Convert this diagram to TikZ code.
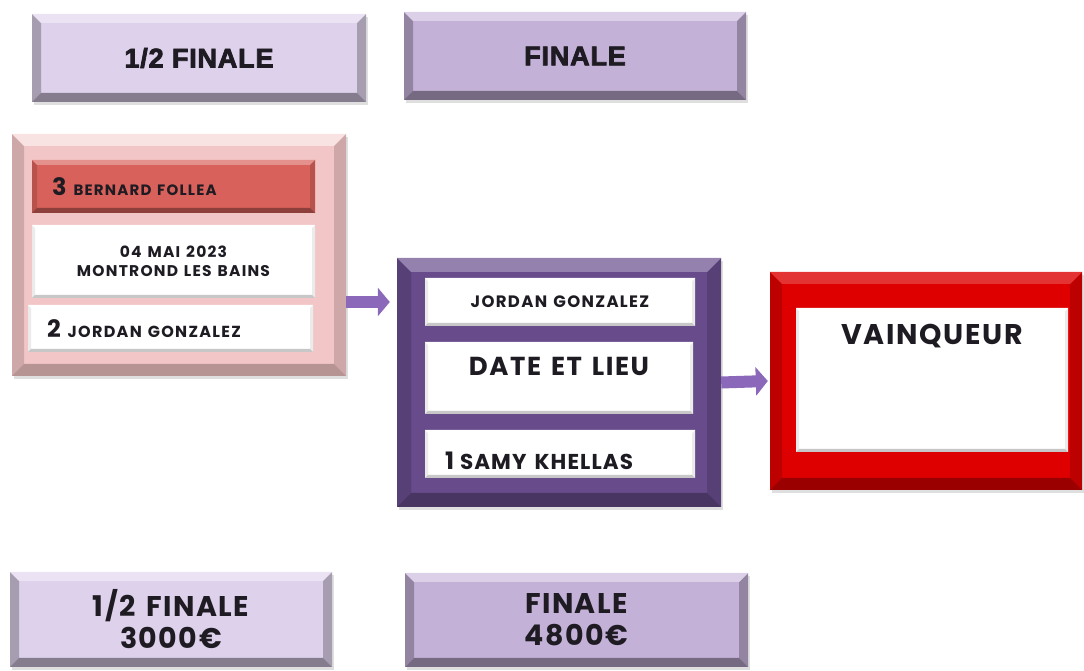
\documentclass[tikz,border=0pt]{standalone}
\usepackage{fontspec}
\setmainfont{Poppins}
\newfontfamily\heavy[BoldFeatures={FakeBold=3}, LetterSpace=3]{Liberation Sans}
\newcommand{\lsp}[1]{\addfontfeatures{LetterSpace=#1}}
\newcommand{\wsp}{\hspace{0.38em}}
\usetikzlibrary{arrows.meta,shadows}
\definecolor{lavA}{HTML}{DDD1EB}
\definecolor{lavB}{HTML}{C4B1D8}
\definecolor{pinkF}{HTML}{F2C6C6}
\definecolor{redbar}{HTML}{D8615B}
\definecolor{purF}{HTML}{674B8B}
\definecolor{redF}{HTML}{DE0000}
\definecolor{arrowC}{HTML}{8B68BA}
\definecolor{txt}{HTML}{1E1B22}
\tikzset{
  bevel/.style n args={4}{path picture={
    \coordinate (bnw) at (path picture bounding box.north west);
    \coordinate (bne) at (path picture bounding box.north east);
    \coordinate (bsw) at (path picture bounding box.south west);
    \coordinate (bse) at (path picture bounding box.south east);
    \fill[#3] (bnw) -- (bsw) -- ([shift={(#4,#4)}]bsw) -- ([shift={(#4,-#4)}]bnw) -- cycle;
    \fill[#3] (bne) -- (bse) -- ([shift={(-#4,#4)}]bse) -- ([shift={(-#4,-#4)}]bne) -- cycle;
    \fill[#1] (bnw) -- (bne) -- ([shift={(-#4,-#4)}]bne) -- ([shift={(#4,-#4)}]bnw) -- cycle;
    \fill[#2] (bsw) -- (bse) -- ([shift={(-#4,#4)}]bse) -- ([shift={(#4,#4)}]bsw) -- cycle;
  }},
  headbox/.style={draw=none, text=txt, inner sep=0pt,
    drop shadow={opacity=0.25, shadow xshift=2pt, shadow yshift=-3pt}},
  framebox/.style={draw=none, inner sep=0pt,
    drop shadow={opacity=0.25, shadow xshift=2pt, shadow yshift=-3pt}},
  whitebox/.style={fill=white, draw=none, text=txt, inner sep=0pt,
    bevel={white}{black!22}{white!92!black}{3}},
  link/.style={line width=12pt, arrowC, -{Triangle[length=12pt,width=28pt]}},
}
\begin{document}
\begin{tikzpicture}[x=1pt,y=1pt]
\useasboundingbox (0,0) rectangle (1084,671);
\fill[white] (0,0) rectangle (1084,671);
% top headers
\node[headbox, fill=lavA, bevel={lavA!60!white}{lavA!60!black}{lavA!75!black}{9},
  minimum width=334, minimum height=88] (h1) at (199,613)
  {\heavy\bfseries\fontsize{27}{29}\selectfont 1/2 FINALE};
\node[headbox, fill=lavB, bevel={lavB!60!white}{lavB!60!black}{lavB!75!black}{9},
  minimum width=342, minimum height=88] (h2) at (575,615)
  {\heavy\bfseries\fontsize{27}{29}\selectfont FINALE};
% left semi-final frame
\node[framebox, fill=pinkF, bevel={pinkF!50!white}{pinkF!75!black}{pinkF!85!black}{12},
  minimum width=334, minimum height=242] (semi) at (179,416) {};
\node[draw=none, fill=redbar, text=txt, inner sep=0pt,
  bevel={redbar!70!white}{redbar!65!black}{redbar!85!black}{5},
  minimum width=283, minimum height=53, text width=243, align=left] (p3) at (173.5,484.5)
  {{\bfseries\fontsize{24}{26}\selectfont 3}\hspace{7pt}{\bfseries\fontsize{15}{17}\selectfont\lsp{8}BERNARD\wsp FOLLEA}};
\node[whitebox, minimum width=283, minimum height=73, align=center,
  font=\bfseries\fontsize{15.5}{19}\selectfont\lsp{8}] (sd) at (173.5,409.5)
  {04\wsp MAI\wsp 2023\\MONTROND\wsp LES\wsp BAINS};
\node[whitebox, minimum width=285, minimum height=47, text width=247, align=left] (p2) at (170.5,342.5)
  {{\bfseries\fontsize{24}{26}\selectfont 2}\hspace{7pt}{\bfseries\fontsize{16}{18}\selectfont\lsp{8}JORDAN\wsp GONZALEZ}};
% final frame
\node[framebox, fill=purF, bevel={purF!70!white}{purF!70!black}{purF!85!black}{14},
  minimum width=324, minimum height=249] (fin) at (559,288.5) {};
\node[whitebox, minimum width=270, minimum height=48,
  font=\bfseries\fontsize{16.5}{18}\selectfont\lsp{8}] (fj) at (560,369) {JORDAN\wsp GONZALEZ};
\node[whitebox, minimum width=268, minimum height=72, text height=18pt, text depth=22pt,
  font=\bfseries\fontsize{26}{28}\selectfont\lsp{6}] (fd) at (559,293) {DATE\wsp ET\wsp LIEU};
\node[whitebox, minimum width=270, minimum height=48, text width=230, align=left,
  text height=31pt, text depth=0pt] (f1) at (560,217)
  {{\bfseries\fontsize{24}{26}\selectfont 1}\hspace{6pt}{\bfseries\fontsize{21.5}{23}\selectfont\lsp{5}SAMY\wsp KHELLAS}};
% winner frame
\node[framebox, fill=redF, bevel={redF!80!white}{redF!70!black}{redF!85!black}{12},
  minimum width=312, minimum height=218] (win) at (926,290) {};
\node[whitebox, minimum width=272, minimum height=144, text height=20pt, text depth=90pt,
  font=\bfseries\fontsize{28.5}{30}\selectfont\lsp{6}] (wv) at (932,291) {VAINQUEUR};
% arrows
\draw[link] (semi.east |- fj.west) -- ([xshift=-7pt]fin.west |- fj.west);
\draw[link] (fin.east) -- ([xshift=-2pt]win.west);
% prize boxes
\node[headbox, fill=lavA, bevel={lavA!60!white}{lavA!60!black}{lavA!75!black}{9},
  minimum width=322, minimum height=95, align=center,
  font=\bfseries\fontsize{28.5}{32}\selectfont\lsp{5}] (pr1) at (171,51.5) {1/2\wsp FINALE\\3000€};
\node[headbox, fill=lavB, bevel={lavB!60!white}{lavB!60!black}{lavB!75!black}{9},
  minimum width=343, minimum height=94, align=center,
  font=\bfseries\fontsize{28.5}{32}\selectfont\lsp{5}] (pr2) at (576.5,51) {FINALE\\4800€};
\end{tikzpicture}
\end{document}
